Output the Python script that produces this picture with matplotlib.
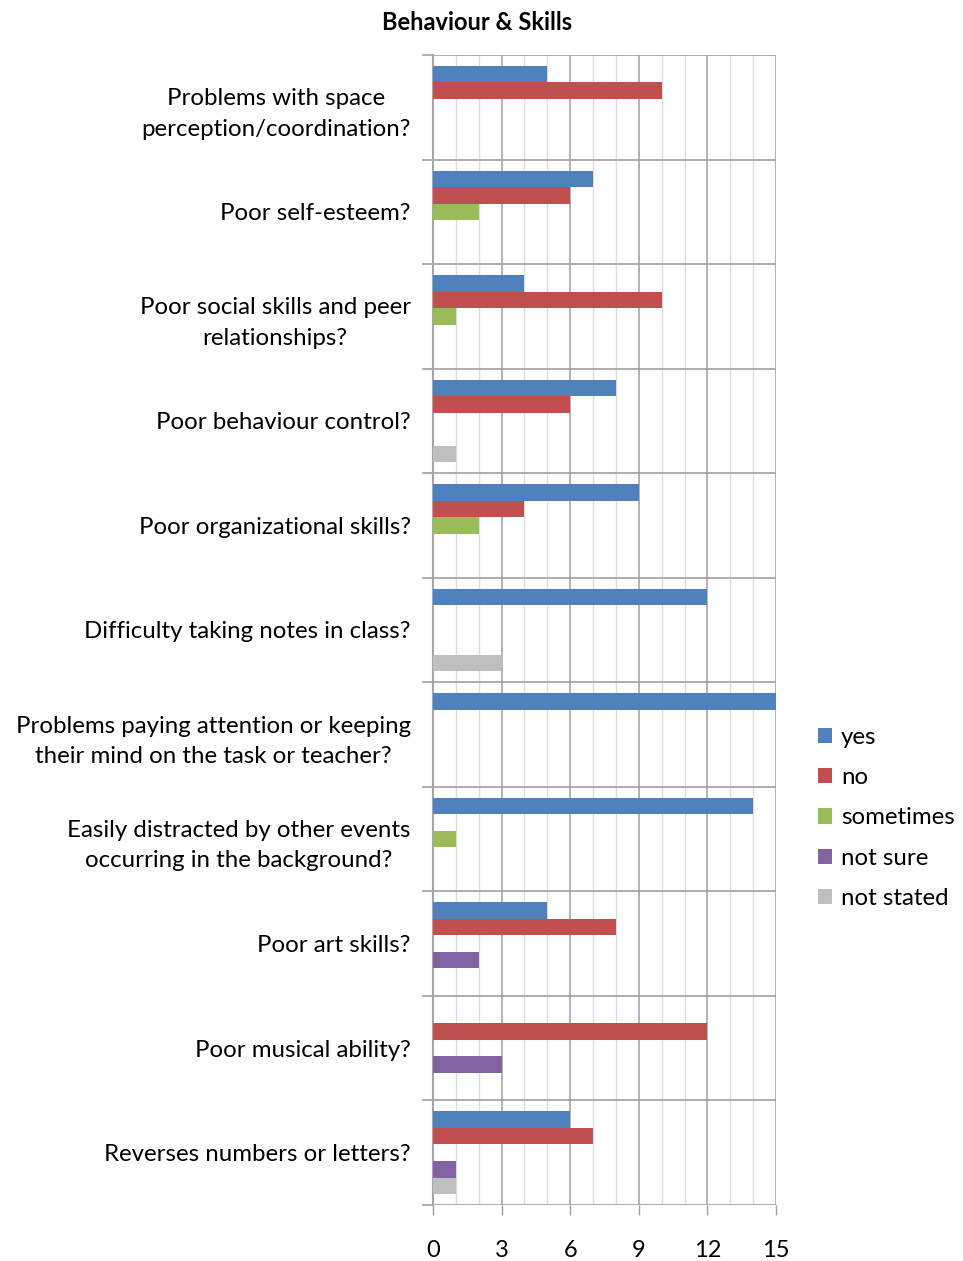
import matplotlib.pyplot as plt
import numpy as np

plt.rcParams['font.family'] = ['Lato', 'DejaVu Sans']

# survey answers per question, top to bottom
categories = [
    "Problems with space\nperception/coordination?",
    "Poor self-esteem?",
    "Poor social skills and peer\nrelationships?",
    "Poor behaviour control?",
    "Poor organizational skills?",
    "Difficulty taking notes in class?",
    "Problems paying attention or keeping\ntheir mind on the task or teacher?",
    "Easily distracted by other events\noccurring in the background?",
    "Poor art skills?",
    "Poor musical ability?",
    "Reverses numbers or letters?",
]
yes = [5, 7, 4, 8, 9, 12, 15, 14, 5, 0, 6]
no = [10, 6, 10, 6, 4, 0, 0, 0, 8, 12, 7]
sometimes = [0, 2, 1, 0, 2, 0, 0, 1, 0, 0, 0]
not_sure = [0, 0, 0, 0, 0, 0, 0, 0, 2, 3, 1]
not_stated = [0, 0, 0, 1, 0, 3, 0, 0, 0, 0, 1]

series = [
    ("yes", yes, "#4F81BD"),
    ("no", no, "#C0504D"),
    ("sometimes", sometimes, "#9BBB59"),
    ("not sure", not_sure, "#8064A2"),
    ("not stated", not_stated, "#BFBFBF"),
]

W, H = 963, 1261
fig = plt.figure(figsize=(W / 100, H / 100), dpi=100)
ax = fig.add_axes([433 / W, 1 - 1205 / H, (776 - 433) / W, (1205 - 55) / H])

n = len(categories)
idx = np.arange(n)
gap = 0.21
bar_h = (1 - gap) / len(series)

for j, (label, vals, color) in enumerate(series):
    y = idx + gap / 2 + bar_h * (j + 0.5)
    ax.barh(y, vals, height=bar_h, color=color, label=label, zorder=3)

ax.set_xlim(0, 15)
ax.set_ylim(n, 0)

# x axis: major every 3, light minor lines every 1
ax.set_xticks(np.arange(0, 16, 3))
ax.set_xticks(np.arange(0, 16, 1), minor=True)
ax.tick_params(axis='x', which='major', direction='out', length=7, width=1,
               color='#a0a0a0', labelsize=17, pad=18)
ax.tick_params(axis='x', which='minor', length=0)
ax.grid(axis='x', which='minor', color='#dcdcdc', linewidth=1, zorder=0)
ax.grid(axis='x', which='major', color='#a6a6a6', linewidth=1.2, zorder=1)

# y axis: boundaries as major ticks, labels on minor ticks at band centres
ax.set_yticks(np.arange(0, n + 1))
ax.set_yticklabels([])
ax.set_yticks(idx + 0.5, minor=True)
ax.set_yticklabels(categories, minor=True, fontsize=17.3, ha='right',
                   multialignment='center', linespacing=1.55)
ax.tick_params(axis='y', which='major', direction='out', length=8, width=1.2,
               color='#a0a0a0')
ax.tick_params(axis='y', which='minor', length=0, pad=16)
ax.grid(axis='y', which='major', color='#a0a0a0', linewidth=1.2, zorder=1)

for s in ['top', 'right', 'bottom']:
    ax.spines[s].set_visible(False)
ax.spines['left'].set_color('#a6a6a6')
ax.spines['left'].set_linewidth(1.5)

fig.text(477 / W, 1 - 22 / H, "Behaviour & Skills", ha='center', va='center',
         fontsize=17, fontweight='bold')

fig.legend(loc='upper left', bbox_to_anchor=(818 / W, 1 - 727 / H),
           frameon=False, fontsize=17.3, handlelength=0.6, handleheight=0.6,
           handletextpad=0.35, labelspacing=0.8, borderaxespad=0,
           borderpad=0)

fig.savefig("out.png", dpi=100)
